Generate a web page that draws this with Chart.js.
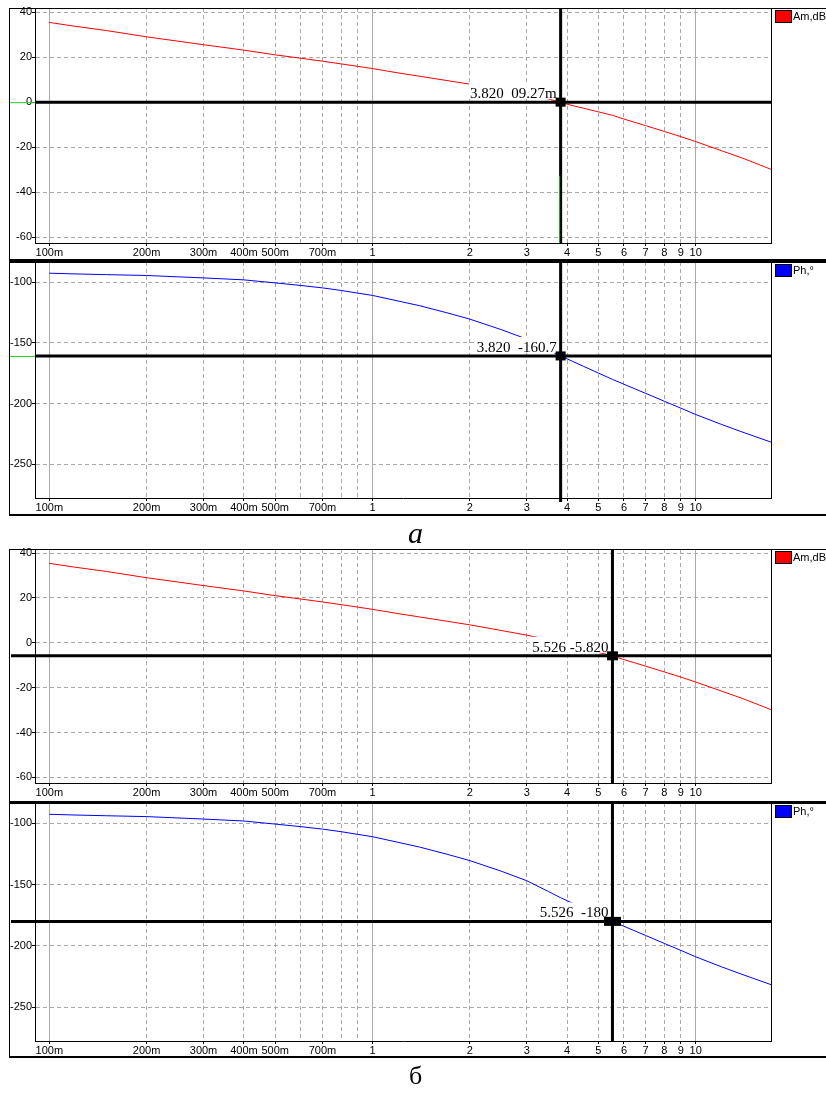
<!DOCTYPE html>
<html>
<head>
<meta charset="utf-8">
<script src="https://cdn.jsdelivr.net/npm/chart.js@4.4.1/dist/chart.umd.min.js"></script>
<style>
  body { margin: 0; background: #fff; width: 826px; height: 1093px; overflow: hidden; position: relative; }
  canvas { position: absolute; left: 0; }
  .cap { position: absolute; font-family: "Liberation Serif", "Times New Roman", serif; color: #000; white-space: nowrap; }
</style>
</head>
<body>
<canvas id="ampA" width="826" height="262" style="top:0px"></canvas>
<canvas id="phA" width="826" height="256" style="top:261px"></canvas>
<canvas id="ampB" width="826" height="264" style="top:540px"></canvas>
<canvas id="phB" width="826" height="258" style="top:802px"></canvas>
<div class="cap" style="left:408px;top:518px;font-size:30px;line-height:30px;font-style:italic">а</div>
<div class="cap" style="left:409px;top:1063px;font-size:26px;line-height:26px">б</div>
<script>
// --- dati (frequenza in Hz, scala log) ---
const freq = [0.1, 0.12, 0.15, 0.2, 0.3, 0.4, 0.5, 0.6, 0.7, 0.8, 0.9, 1, 1.2, 1.4, 1.7, 2, 2.5, 3, 3.5, 3.82, 4, 4.5, 5, 5.526, 6, 7, 8, 9, 10, 12, 14, 17.1];
const ampDb = [35.4, 33.7, 31.8, 29.0, 25.5, 23.1, 21.0, 19.5, 18.2, 17.0, 15.9, 14.9, 13.0, 11.5, 9.6, 8.0, 5.5, 3.4, 1.4, 0.0, -0.9, -2.7, -4.3, -5.82, -7.5, -10.4, -13.0, -15.3, -17.5, -21.5, -24.9, -29.8];
const phaseDeg = [-92.6, -93.2, -93.8, -94.5, -96.5, -98.1, -100.6, -102.7, -104.7, -106.8, -109.0, -110.9, -115.5, -119.4, -125.2, -130.4, -139.0, -146.8, -155.6, -160.7, -163.1, -169.3, -174.8, -180.0, -184.0, -191.5, -198.0, -203.7, -208.9, -217.0, -223.5, -231.6];

const tickVals = [0.1, 0.2, 0.3, 0.4, 0.5, 0.6, 0.7, 0.8, 0.9, 1, 2, 3, 4, 5, 6, 7, 8, 9, 10];
const tickLabels = ['100m', '200m', '300m', '400m', '500m', '', '700m', '', '', '1', '2', '3', '4', '5', '6', '7', '8', '9', '10'];
const decadeVals = [0.1, 1, 10];
const ampTicks = [40, 20, 0, -20, -40, -60];
const phaseTicks = [-100, -150, -200, -250];

// cursori: a = guadagno 0 dB, б = fase -180
const cursorFreq = [3.82, 5.526];
const cursorAmp = [0.00927, -5.82];
const cursorPhase = [-160.7, -180];
const cursorAmpText = ['3.820  09.27m', '5.526 -5.820'];
const cursorPhaseText = ['3.820  -160.7', '5.526  -180'];

const X_MIN = 0.0903, X_MAX = 17.1;
const GRID_GREY = '#a9a9a9';

Chart.defaults.font.family = '"Liberation Sans", Arial, sans-serif';
Chart.defaults.font.size = 11;
Chart.defaults.color = '#000';

function isDecade(v) {
    return decadeVals.some(d => Math.abs(d - v) < 1e-9);
}

// --- plugin: cornice, legenda, cursore con etichetta ---
function panelPlugin(p) {
    return {
        id: 'panel_' + p.id,
        afterDatasetsDraw(chart) {
            const ctx = chart.ctx;
            const a = chart.chartArea;
            const cx = chart.scales.x.getPixelForValue(p.cursorX);
            const cy = chart.scales.y.getPixelForValue(p.cursorY);

            ctx.save();
            // etichetta con fondo bianco
            ctx.font = '15px "Liberation Serif", "Times New Roman", serif';
            const tw = ctx.measureText(p.text).width;
            const tRight = cx - 4;
            const base = cy - 4;
            ctx.fillStyle = '#fff';
            ctx.fillRect(tRight - tw - 1, base - 15, cx - (tRight - tw - 1), 16);
            ctx.fillStyle = '#000';
            ctx.textAlign = 'right';
            ctx.textBaseline = 'alphabetic';
            ctx.fillText(p.text, tRight, base);

            // linee del cursore
            ctx.strokeStyle = '#000';
            ctx.lineWidth = 3;
            ctx.beginPath();
            ctx.moveTo(p.greenLeft ? a.left : 11, cy);
            ctx.lineTo(a.right, cy);
            ctx.moveTo(cx, a.top);
            ctx.lineTo(cx, a.bottom + (p.stub || 0));
            ctx.stroke();

            if (p.greenLeft) {
                ctx.strokeStyle = '#22cc22';
                ctx.lineWidth = 1;
                ctx.beginPath();
                ctx.moveTo(9, cy + 0.5);
                ctx.lineTo(a.left, cy + 0.5);
                ctx.stroke();
            }
            if (p.greenFrom) {
                ctx.strokeStyle = '#22bb22';
                ctx.lineWidth = 1;
                ctx.beginPath();
                ctx.moveTo(cx - 1, p.greenFrom);
                ctx.lineTo(cx - 1, a.bottom);
                ctx.stroke();
            }

            // quadratino
            ctx.fillStyle = '#000';
            ctx.fillRect(cx - p.markW / 2, cy - 4.5, p.markW, 9);
            ctx.restore();
        },
        afterDraw(chart) {
            const ctx = chart.ctx;
            const a = chart.chartArea;
            ctx.save();
            ctx.strokeStyle = '#000';
            // bordo area grafico
            ctx.lineWidth = 1;
            ctx.beginPath();
            ctx.moveTo(9, a.top + 0.5);
            ctx.lineTo(826, a.top + 0.5);
            ctx.moveTo(a.right + 0.5, a.top);
            ctx.lineTo(a.right + 0.5, a.bottom);
            ctx.moveTo(9.5, a.top);
            ctx.lineTo(9.5, p.frameBottom);
            ctx.stroke();
            if (p.thickTop) {
                ctx.lineWidth = 2;
                ctx.beginPath();
                ctx.moveTo(9, a.top);
                ctx.lineTo(826, a.top);
                ctx.stroke();
            }
            ctx.lineWidth = 2;
            ctx.beginPath();
            ctx.moveTo(9, p.frameBottom);
            ctx.lineTo(826, p.frameBottom);
            ctx.stroke();

            // legenda
            const lx = a.right + 4, ly = a.top + 2;
            ctx.fillStyle = p.color;
            ctx.fillRect(lx, ly, 17, 13);
            ctx.lineWidth = 1;
            ctx.strokeRect(lx + 0.5, ly + 0.5, 16, 12);
            ctx.fillStyle = '#000';
            ctx.font = '11px "Liberation Sans", Arial, sans-serif';
            ctx.textBaseline = 'middle';
            ctx.fillText(p.legend, lx + 18, ly + 7);
            ctx.restore();
        }
    };
}

function makePanel(p) {
    const H = p.height;
    const points = freq.map((f, i) => ({ x: f, y: p.values[i] }));
    return new Chart(document.getElementById(p.id), {
        type: 'line',
        data: {
            datasets: [{
                label: p.legend,
                data: points,
                borderColor: p.color,
                borderWidth: 1,
                pointRadius: 0,
                tension: 0
            }]
        },
        options: {
            responsive: false,
            animation: false,
            devicePixelRatio: 1,
            layout: { padding: { left: 0, right: 55, top: p.chartTop, bottom: 0 } },
            plugins: { legend: { display: false }, tooltip: { enabled: false } },
            scales: {
                x: {
                    type: 'logarithmic',
                    position: 'bottom',
                    min: X_MIN,
                    max: X_MAX,
                    afterBuildTicks: s => { s.ticks = tickVals.map(v => ({ value: v })); },
                    afterFit: s => { s.height = H - p.chartBottom; s.paddingLeft = 0; s.paddingRight = 0; },
                    grid: {
                        color: c => (c.tick && isDecade(c.tick.value)) ? 'rgba(0,0,0,0)' : GRID_GREY,
                        tickColor: c => tickLabels[c.index] ? '#000' : 'rgba(0,0,0,0)',
                        tickLength: 3,
                        lineWidth: 1
                    },
                    border: { color: '#000', width: 1, dash: [4, 3] },
                    ticks: {
                        autoSkip: false,
                        maxRotation: 0,
                        minRotation: 0,
                        padding: 0,
                        color: '#000',
                        callback: (v, i) => tickLabels[i]
                    }
                },
                xd: {
                    type: 'logarithmic',
                    position: 'bottom',
                    min: X_MIN,
                    max: X_MAX,
                    afterBuildTicks: s => { s.ticks = decadeVals.map(v => ({ value: v })); },
                    afterFit: s => { s.height = 0; s.paddingLeft = 0; s.paddingRight = 0; },
                    grid: { color: GRID_GREY, drawTicks: false, lineWidth: 1 },
                    border: { display: false },
                    ticks: { display: false }
                },
                y: {
                    min: p.yMin,
                    max: p.yMax,
                    afterBuildTicks: s => { s.ticks = p.yTicks.map(v => ({ value: v })); },
                    afterFit: s => { s.width = 35; s.paddingTop = 0; s.paddingBottom = 0; },
                    grid: { color: GRID_GREY, tickColor: '#000', tickLength: 3, lineWidth: 1 },
                    border: { color: '#000', width: 1, dash: [4, 3] },
                    ticks: { padding: 0, color: '#000' }
                }
            }
        },
        plugins: [panelPlugin(p)]
    });
}

makePanel({
    id: 'ampA', height: 262, chartTop: 8, chartBottom: 243, frameBottom: 260,
    values: ampDb, yMin: -62.5, yMax: 41.8, yTicks: ampTicks,
    color: '#ff0000', legend: 'Am,dB',
    cursorX: cursorFreq[0], cursorY: cursorAmp[0], text: cursorAmpText[0],
    markW: 10, greenLeft: true, greenFrom: 176
});
makePanel({
    id: 'phA', height: 256, chartTop: 1, chartBottom: 237, frameBottom: 254,
    values: phaseDeg, yMin: -277.6, yMax: -83.4, yTicks: phaseTicks,
    color: '#0000ff', legend: 'Ph,°', thickTop: true,
    cursorX: cursorFreq[0], cursorY: cursorPhase[0], text: cursorPhaseText[0],
    markW: 10, greenLeft: true, stub: 4
});
makePanel({
    id: 'ampB', height: 264, chartTop: 9, chartBottom: 243, frameBottom: 262,
    values: ampDb, yMin: -62.5, yMax: 41.8, yTicks: ampTicks,
    color: '#ff0000', legend: 'Am,dB',
    cursorX: cursorFreq[1], cursorY: cursorAmp[1], text: cursorAmpText[1],
    markW: 11
});
makePanel({
    id: 'phB', height: 258, chartTop: 1, chartBottom: 239, frameBottom: 255,
    values: phaseDeg, yMin: -277.6, yMax: -83.4, yTicks: phaseTicks,
    color: '#0000ff', legend: 'Ph,°', thickTop: true,
    cursorX: cursorFreq[1], cursorY: cursorPhase[1], text: cursorPhaseText[1],
    markW: 17
});
</script>
</body>
</html>
